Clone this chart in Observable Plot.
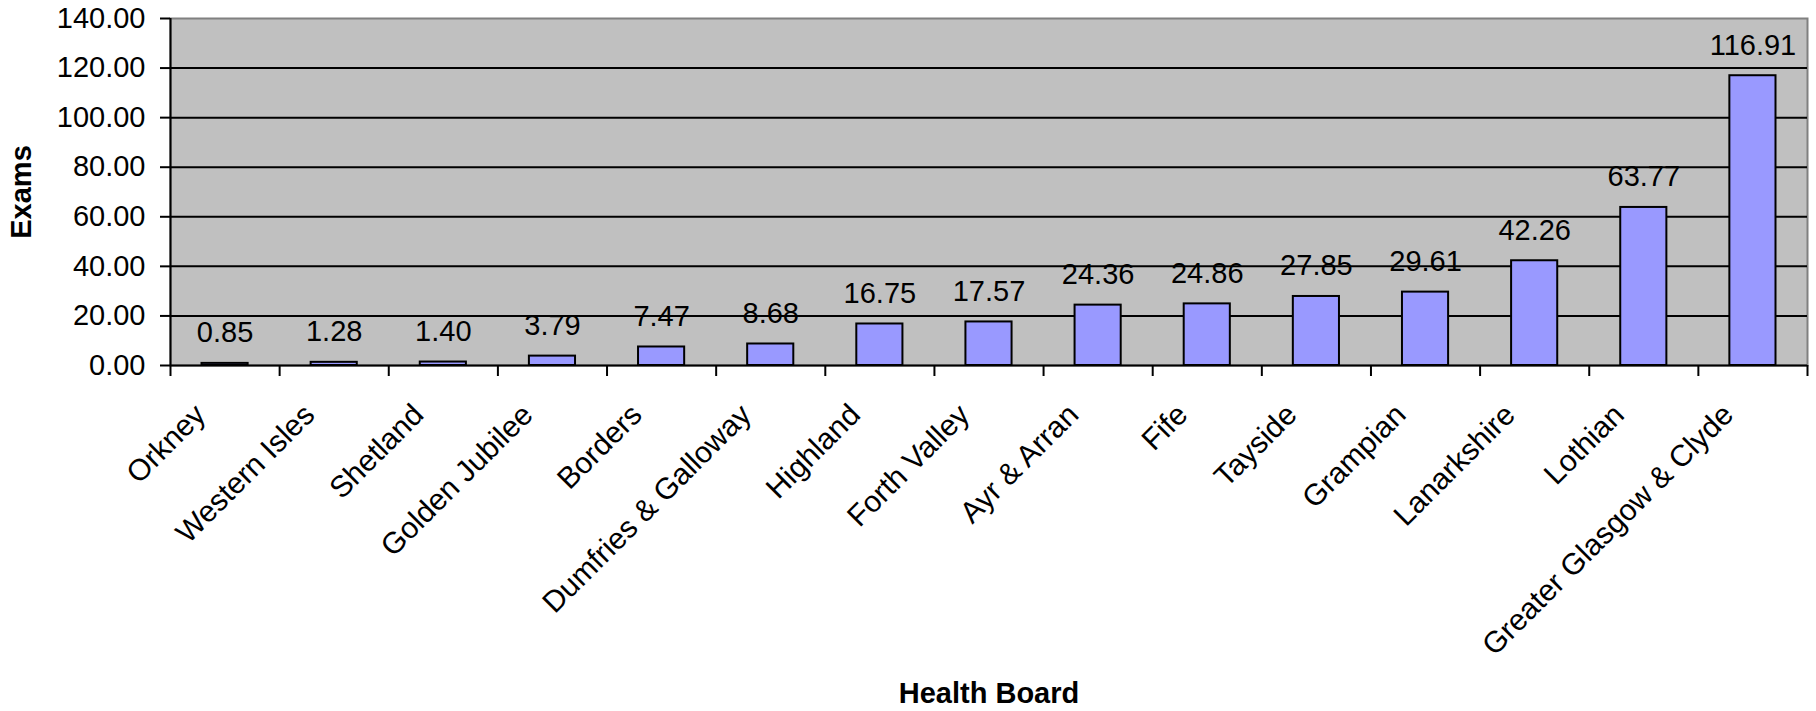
<!DOCTYPE html>
<html>
<head>
<meta charset="utf-8">
<script src="https://cdn.jsdelivr.net/npm/d3@7"></script>
<script src="https://cdn.jsdelivr.net/npm/@observablehq/plot@0.6"></script>
<style>
  html, body { margin: 0; padding: 0; background: white; }
</style>
</head>
<body>
<div id="chart"></div>
<script>
const boards = ["Orkney", "Western Isles", "Shetland", "Golden Jubilee", "Borders",
  "Dumfries & Galloway", "Highland", "Forth Valley", "Ayr & Arran", "Fife",
  "Tayside", "Grampian", "Lanarkshire", "Lothian", "Greater Glasgow & Clyde"];
const exams = [0.85, 1.28, 1.40, 3.79, 7.47, 8.68, 16.75, 17.57, 24.36, 24.86,
  27.85, 29.61, 42.26, 63.77, 116.91];
const yTicks = [0, 20, 40, 60, 80, 100, 120, 140];
const xTitle = "Health Board";
const yTitle = "Exams";

const data = boards.map((b, i) => ({board: b, i, exams: exams[i]}));
const edges = d3.range(boards.length + 1);

const chart = Plot.plot({
  width: 1816,
  height: 711,
  marginLeft: 170,
  marginRight: 9,
  marginTop: 18,
  marginBottom: 346,
  style: {fontFamily: "'Liberation Sans', Arial, sans-serif", fontSize: "29px", color: "black", background: "white"},
  x: {type: "linear", domain: [0, boards.length], axis: null},
  y: {domain: [0, 140], axis: null},
  marks: [
    Plot.frame({fill: "#C0C0C0", stroke: "#808080", strokeWidth: 2}),
    Plot.ruleY(yTicks.filter(t => t > 0 && t < 140), {stroke: "black", strokeWidth: 2}),
    Plot.rectY(data, {x1: d => d.i, x2: d => d.i + 1, y: "exams", insetLeft: 31.5, insetRight: 31.5,
      fill: "#9999FF", stroke: "black", strokeWidth: 2}),
    Plot.text(data, {x: d => d.i + 0.5, y: "exams", text: d => d.exams.toFixed(2),
      lineAnchor: "bottom", textAnchor: "middle", dy: -21, fill: "black", fontSize: 29}),
    Plot.ruleX([0], {stroke: "black", strokeWidth: 2}),
    Plot.ruleY([0], {stroke: "black", strokeWidth: 2}),
    Plot.axisY({ticks: yTicks, tickFormat: d => d.toFixed(2), tickSize: 10, tickPadding: 15,
      label: null, strokeWidth: 2, fontSize: 29}),
    Plot.axisX({ticks: edges, tickFormat: () => "", tickSize: 11, strokeWidth: 2, label: null}),
    Plot.text(data, {x: d => d.i + 0.5, text: "board", frameAnchor: "bottom", rotate: -45,
      textAnchor: "end", lineAnchor: "top", dx: -33, dy: 36, fill: "black", fontSize: 30}),
    Plot.text([yTitle], {text: d => d, frameAnchor: "left", dx: -149, rotate: -90,
      textAnchor: "middle", lineAnchor: "middle", fontWeight: "bold", fill: "black", fontSize: 29}),
    Plot.text([xTitle], {text: d => d, frameAnchor: "bottom", dy: 328,
      textAnchor: "middle", lineAnchor: "middle", fontWeight: "bold", fill: "black", fontSize: 29})
  ]
});
document.getElementById("chart").appendChild(chart);
</script>
</body>
</html>
